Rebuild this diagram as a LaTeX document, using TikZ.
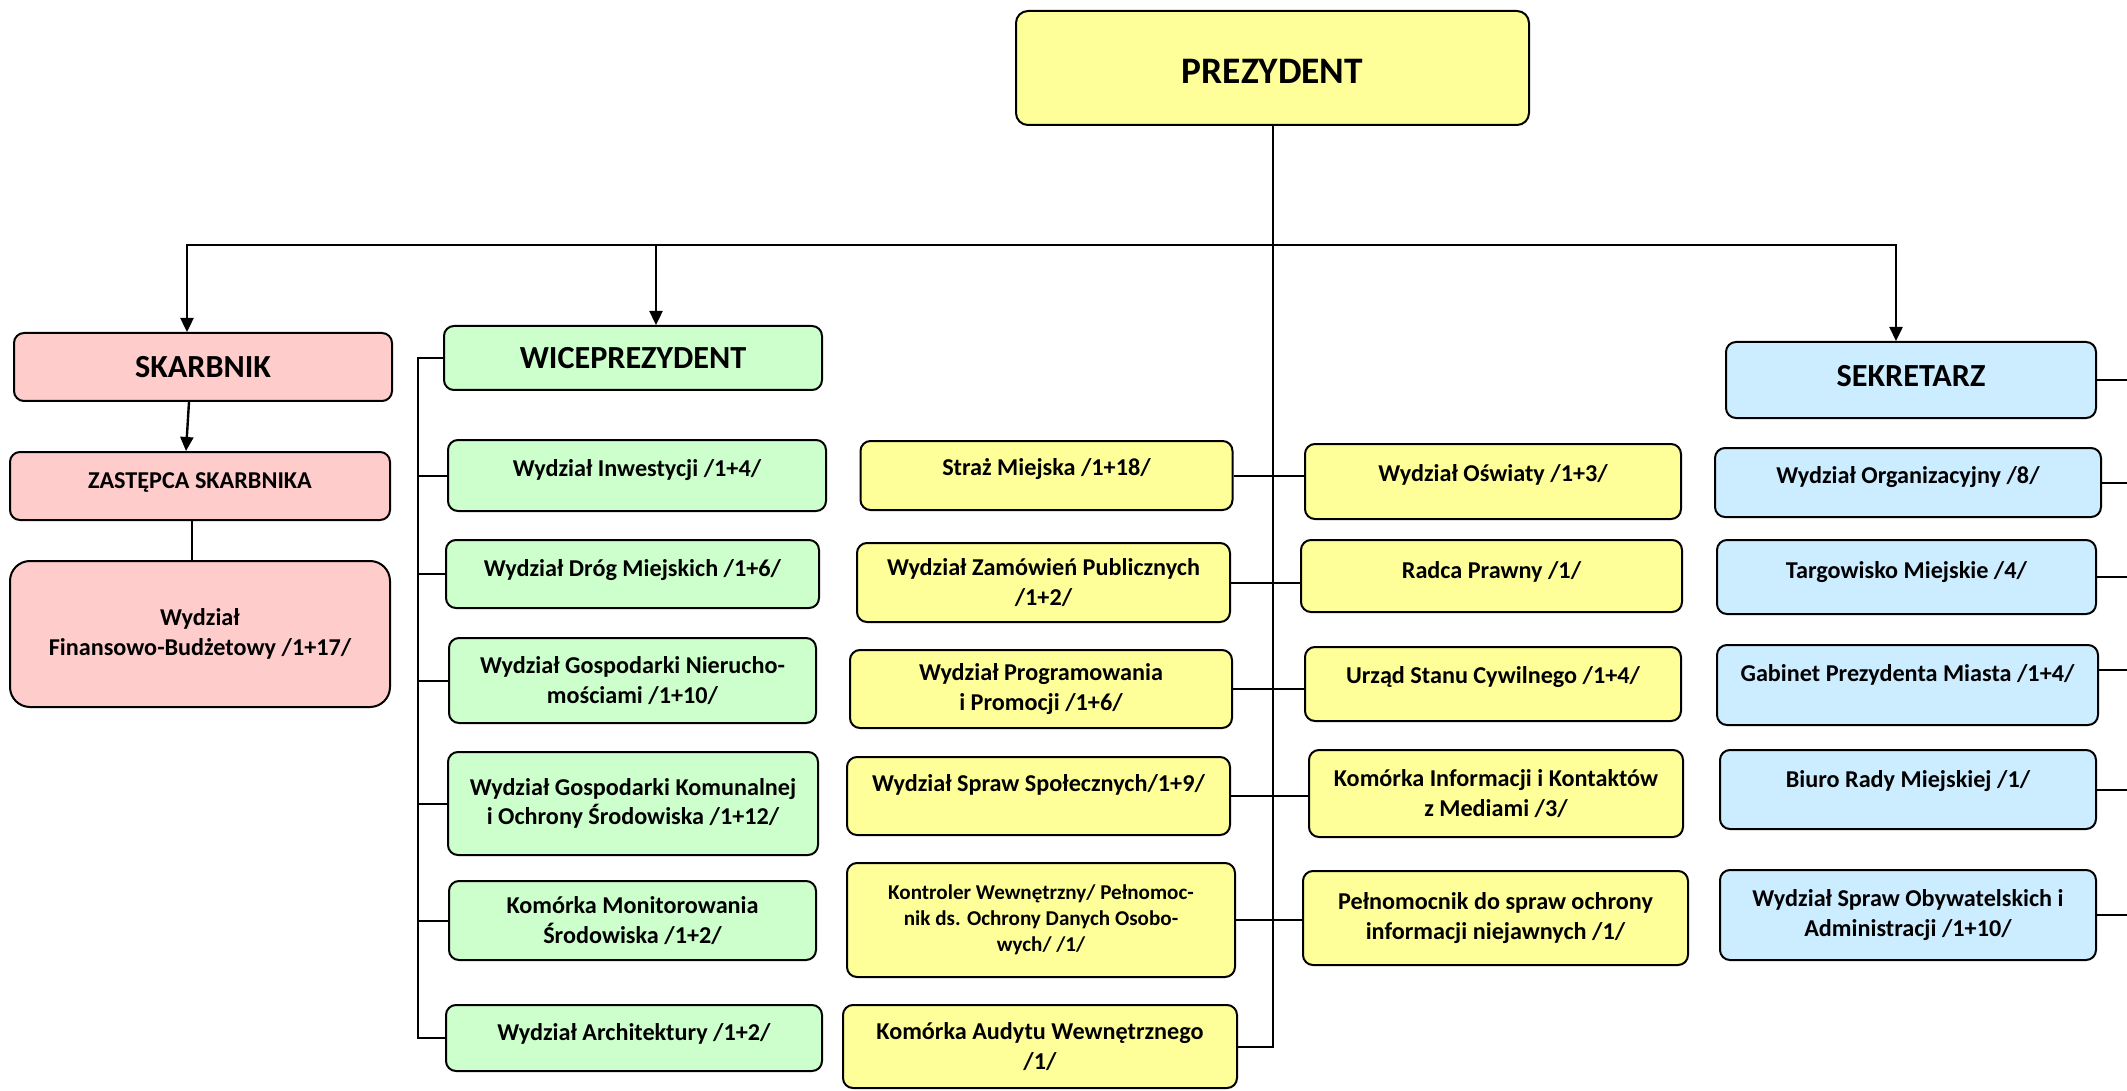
\documentclass[tikz,border=0pt]{standalone}
\usepackage{fontspec}
\setmainfont{Carlito}
\usetikzlibrary{arrows.meta, positioning}

\definecolor{prezyellow}{HTML}{FFFF99}
\definecolor{vicegreen}{HTML}{CCFFCC}
\definecolor{treaspink}{HTML}{FFCCCC}
\definecolor{secblue}{HTML}{CCECFF}

\begin{document}
\begin{tikzpicture}[x=0.5pt, y=-0.5pt, font=\bfseries\fontsize{12.1}{14.6}\selectfont]
    \tikzset{
    block/.style     = {draw, line width=1pt, rectangle, rounded corners=5pt, align=center, inner sep=2pt},
    boxsize/.style 2 args = {minimum width=#1*0.5pt, minimum height=#2*0.5pt},
    lift/.style      = {text height=7.8pt, text depth=#1},
    headtext/.style  = {font=\bfseries\fontsize{16.1}{19}\selectfont},
    smalltext/.style = {font=\bfseries\fontsize{10.55}{13}\selectfont},
    prezbox/.style   = {block, fill=prezyellow},
    vicebox/.style   = {block, fill=vicegreen},
    treasbox/.style  = {block, fill=treaspink},
    secbox/.style    = {block, fill=secblue},
    line/.style      = {line width=1pt},
    arrowline/.style = {line width=1.2pt, -{Triangle[length=7pt, width=6.5pt]}}
    }
    \useasboundingbox (0,0) rectangle (2127,1091);

    % President
    \node[prezbox, boxsize={513}{114}, rounded corners=6pt, font=\bfseries\fontsize{18.7}{22}\selectfont, text height=16pt, text depth=0pt] (prez) at (1272.5,68) {PREZYDENT};

    % Treasurer
    \node[treasbox, boxsize={378}{68}, headtext] (skarb) at (203,367) {SKARBNIK};
    \node[treasbox, boxsize={380}{68}, font=\bfseries\fontsize{12.1}{14}\selectfont, text height=7.8pt, text depth=5pt] (zast) at (200,486) {ZASTĘPCA SKARBNIKA};
    \node[treasbox, boxsize={380}{146}, rounded corners=10pt] (fin) at (200,634) {Wydział\\Finansowo-Budżetowy /1+17/};

    % Vice president and his units
    \node[vicebox, boxsize={378}{64}, headtext] (wice) at (633,358) {WICEPREZYDENT};
    \node[vicebox, boxsize={378}{71}, lift=7pt] (inw) at (637,475.5) {Wydział Inwestycji /1+4/};
    \node[vicebox, boxsize={373}{68}, lift=5pt] (drog) at (632.5,574) {Wydział Dróg Miejskich /1+6/};
    \node[vicebox, boxsize={367}{85}] (nier) at (632.5,680.5) {Wydział Gospodarki Nierucho-\\mościami /1+10/};
    \node[vicebox, boxsize={370}{103}] (komun) at (633,803.5) {Wydział Gospodarki Komunalnej\\i Ochrony Środowiska /1+12/};
    \node[vicebox, boxsize={367}{79}] (monit) at (632.5,920.5) {Komórka Monitorowania\\Środowiska /1+2/};
    \node[vicebox, boxsize={376}{66}, lift=5pt] (arch) at (634,1038) {Wydział Architektury /1+2/};

    % Units under the president
    \node[prezbox, boxsize={372}{69}, lift=8pt] (straz) at (1046.5,475.5) {Straż Miejska /1+18/};
    \node[prezbox, boxsize={373}{79}] (zam) at (1043.5,582.5) {Wydział Zamówień Publicznych\\/1+2/};
    \node[prezbox, boxsize={382}{78}] (prog) at (1041,689) {Wydział Programowania\\i Promocji /1+6/};
    \node[prezbox, boxsize={383}{78}, lift=12pt] (spol) at (1038.5,796) {Wydział Spraw Społecznych/1+9/};
    \node[prezbox, boxsize={388}{114}, smalltext] (kontr) at (1041,920) {Kontroler Wewnętrzny/ Pełnomoc-\\nik ds. Ochrony Danych Osobo-\\wych/ /1/};
    \node[prezbox, boxsize={394}{83}] (audyt) at (1040,1046.5) {Komórka Audytu Wewnętrznego\\/1/};

    \node[prezbox, boxsize={376}{75}, lift=8pt] (osw) at (1493,481.5) {Wydział Oświaty /1+3/};
    \node[prezbox, boxsize={381}{72}, lift=5pt] (radca) at (1491.5,576) {Radca Prawny /1/};
    \node[prezbox, boxsize={376}{74}, lift=8pt] (urzad) at (1493,684) {Urząd Stanu Cywilnego /1+4/};
    \node[prezbox, boxsize={374}{87}] (info) at (1496,793.5) {Komórka Informacji i Kontaktów\\z Mediami /3/};
    \node[prezbox, boxsize={385}{94}] (pelnom) at (1495.5,918) {Pełnomocnik do spraw ochrony\\informacji niejawnych /1/};

    % Secretary and his units
    \node[secbox, boxsize={370}{76}, headtext, text height=10.4pt, text depth=4pt] (sek) at (1911,380) {SEKRETARZ};
    \node[secbox, boxsize={386}{69}, lift=7pt] (org) at (1908,482.5) {Wydział Organizacyjny /8/};
    \node[secbox, boxsize={379}{74}, lift=6pt] (targ) at (1906.5,577) {Targowisko Miejskie /4/};
    \node[secbox, boxsize={381}{80}, lift=11pt] (gab) at (1907.5,685) {Gabinet Prezydenta Miasta /1+4/};
    \node[secbox, boxsize={376}{79}, lift=10pt] (biuro) at (1908,789.5) {Biuro Rady Miejskiej /1/};
    \node[secbox, boxsize={376}{90}] (obyw) at (1908,915) {Wydział Spraw Obywatelskich i\\Administracji /1+10/};

    % Connections from the president
    \coordinate (hub) at ([yshift=-59.5pt]prez.south);
    \draw[arrowline] (hub) -| ([xshift=-8pt]skarb.north);
    \draw[arrowline] (hub) -| ([xshift=11.5pt]wice.north);
    \draw[arrowline] (hub) -| ([xshift=-7.5pt]sek.north);
    \draw[line] (prez.south) |- (audyt.east);

    % Treasurer chain
    \draw[arrowline] ([xshift=-7pt]skarb.south) -- ([xshift=-7pt]zast.north);
    \draw[line] ([xshift=-4pt]zast.south) -- ([xshift=-4pt]fin.north);

    % Vice president spine
    \draw[line] (wice.west) -- ++(-12.5pt,0) coordinate (spine) |- (arch.west);
    \foreach \n in {inw, drog, nier, komun, monit}
        \draw[line] (spine |- \n.west) -- (\n.west);

    % Middle pairs across the trunk
    \foreach \l/\r in {straz/osw, zam/radca, prog/urzad, spol/info, kontr/pelnom}
        \draw[line] (\l.east) -- (\l.east -| \r.west);

    % Secretary units, running off the right edge
    \coordinate (edge) at (2127,0);
    \foreach \n in {sek, org, targ, biuro, obyw}
        \draw[line] (\n.east) -- (\n.east -| edge);
    \draw[line] ([yshift=7.5pt]gab.east) -- ([yshift=7.5pt]gab.east -| edge);
\end{tikzpicture}
\end{document}
